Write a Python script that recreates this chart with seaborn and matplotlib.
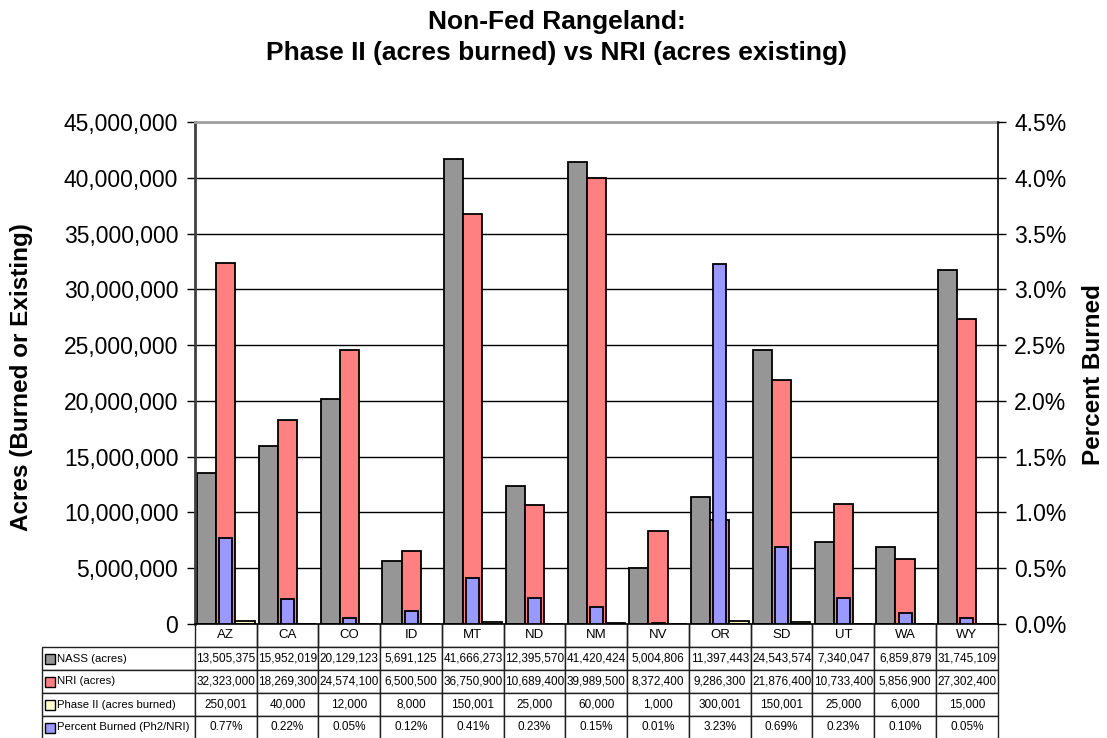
import matplotlib
matplotlib.use("Agg")
import matplotlib.pyplot as plt
from matplotlib import font_manager
from matplotlib.patches import Rectangle
from matplotlib.ticker import FuncFormatter, MultipleLocator
import pandas as pd
import seaborn as sns

# ---- data -------------------------------------------------------------
states = ["AZ", "CA", "CO", "ID", "MT", "ND", "NM", "NV", "OR", "SD", "UT", "WA", "WY"]
nass_acres = [13505375, 15952019, 20129123, 5691125, 41666273, 12395570, 41420424,
              5004806, 11397443, 24543574, 7340047, 6859879, 31745109]
nri_acres = [32323000, 18269300, 24574100, 6500500, 36750900, 10689400, 39989500,
             8372400, 9286300, 21876400, 10733400, 5856900, 27302400]
phase2_burned = [250001, 40000, 12000, 8000, 150001, 25000, 60000,
                 1000, 300001, 150001, 25000, 6000, 15000]
percent_burned = [0.77, 0.22, 0.05, 0.12, 0.41, 0.23, 0.15, 0.01, 3.23, 0.69, 0.23, 0.10, 0.05]

series_names = ["NASS (acres)", "NRI (acres)", "Phase II (acres burned)"]
pct_name = "Percent Burned (Ph2/NRI)"
colors = {"NASS (acres)": "#969696", "NRI (acres)": "#FF8080",
          "Phase II (acres burned)": "#FFFFCC", pct_name: "#9999FF"}

# ---- style ------------------------------------------------------------
sns.set_style("white")
plt.rcParams["font.family"] = ["Liberation Sans", "DejaVu Sans"]
plt.rcParams["text.color"] = "black"
plt.rcParams["axes.labelcolor"] = "black"
plt.rcParams["xtick.color"] = "black"
plt.rcParams["ytick.color"] = "black"


def has_font(name):
    try:
        font_manager.findfont(font_manager.FontProperties(family=name),
                              fallback_to_default=False)
        return True
    except Exception:
        return False


narrow = "Liberation Sans Narrow" if has_font("Liberation Sans Narrow") else "Liberation Sans"
table_fs = 10 if narrow == "Liberation Sans Narrow" else 8.5
header_fs = 10 if narrow == "Liberation Sans Narrow" else 9.5
label_fs = 10 if narrow == "Liberation Sans Narrow" else 8.2

W, H = 1107, 738
fig = plt.figure(figsize=(W / 100, H / 100), dpi=100)
ax_l, ax_r, ax_t, ax_b = 195, 997.7, 122, 624
ax = fig.add_axes([ax_l / W, (H - ax_b) / H, (ax_r - ax_l) / W, (ax_b - ax_t) / H])

# ---- primary bars -------------------------------------------------------
long = pd.DataFrame({
    "state": states * 3,
    "series": [s for s in series_names for _ in states],
    "acres": nass_acres + nri_acres + phase2_burned,
})
sns.barplot(data=long, x="state", y="acres", hue="series", order=states,
            hue_order=series_names, palette=colors, width=0.933, gap=0,
            edgecolor="black", linewidth=1.3, errorbar=None, legend=False,
            saturation=1, ax=ax)
ax.set_ylim(0, 45_000_000)
ax.yaxis.set_major_locator(MultipleLocator(5_000_000))
ax.yaxis.set_major_formatter(FuncFormatter(lambda v, p: f"{v:,.0f}"))
ax.set_axisbelow(True)
ax.yaxis.grid(True, color="black", linewidth=1)
ax.set_xlabel("")
ax.set_ylabel("")
ax.set_xticklabels([])
ax.tick_params(axis="x", length=0)
ax.tick_params(axis="y", direction="out", length=6, width=1, labelsize=16.5,
               colors="black", pad=6)
ax.spines["left"].set_color("#404040")
ax.spines["left"].set_linewidth(2)
ax.spines["top"].set_color("#A0A0A0")
ax.spines["top"].set_linewidth(2)
ax.spines["right"].set_visible(False)
ax.spines["bottom"].set_color("black")
ax.spines["bottom"].set_linewidth(1.2)

# ---- secondary bars (percent burned) ------------------------------------
ax2 = ax.twinx()
pct_df = pd.DataFrame({"state": states, "pct": percent_burned})
sns.barplot(data=pct_df, x="state", y="pct", order=states, color=colors[pct_name],
            width=0.21, edgecolor="black", linewidth=1.3, errorbar=None,
            saturation=1, ax=ax2)
ax2.set_ylim(0, 4.5)
ax2.yaxis.set_major_locator(MultipleLocator(0.5))
ax2.yaxis.set_major_formatter(FuncFormatter(lambda v, p: f"{v:.1f}%"))
ax2.set_xlabel("")
ax2.set_ylabel("")
ax2.tick_params(axis="y", direction="out", length=6, width=1, labelsize=16.5,
                colors="black", pad=6)
for side in ["left", "top", "bottom"]:
    ax2.spines[side].set_visible(False)
ax2.spines["right"].set_color("black")
ax2.spines["right"].set_linewidth(1.2)

# ---- data table ---------------------------------------------------------
rows = [[""] + states,
        [series_names[0]] + [f"{v:,}" for v in nass_acres],
        [series_names[1]] + [f"{v:,}" for v in nri_acres],
        [series_names[2]] + [f"{v:,}" for v in phase2_burned],
        [pct_name] + [f"{v:.2f}%" for v in percent_burned]]
tbl_left = 42
cat_w = (ax_r - ax_l) / len(states)
ax_w = ax_r - ax_l
ax_h = ax_b - ax_t
row_h = 23
tbl = ax.table(cellText=rows, cellLoc="center",
               colWidths=[(ax_l - tbl_left)] + [cat_w] * len(states),
               bbox=[(tbl_left - ax_l) / ax_w, -5 * row_h / ax_h,
                     (ax_r - tbl_left) / ax_w, 5 * row_h / ax_h])
tbl.auto_set_font_size(False)
tbl.set_fontsize(table_fs)
for (r, c), cell in tbl.get_celld().items():
    cell.set_edgecolor("#202020")
    cell.set_linewidth(1)
    txt = cell.get_text()
    txt.set_fontfamily([narrow, "DejaVu Sans"])
    txt.set_color("black")
    if r == 0 and c == 0:
        cell.visible_edges = "open"
    elif r == 0:
        cell.visible_edges = "LRB"
        txt.set_fontsize(header_fs)
    if c == 0 and r > 0:
        txt.set_ha("left")
        txt.set_fontsize(label_fs)
        cell.PAD = 0.1

# legend keys in the row-label column
key = 10
for i, name in enumerate(series_names + [pct_name]):
    yc = ax_b + row_h * (i + 1.5)
    ax.add_patch(Rectangle(((45 - ax_l) / ax_w, (ax_b - yc - key / 2) / ax_h),
                           key / ax_w, key / ax_h, transform=ax.transAxes,
                           facecolor=colors[name], edgecolor="black",
                           linewidth=1, clip_on=False, zorder=5))

# ---- titles ---------------------------------------------------------------
fig.text(557 / W, 1 - 29 / H, "Non-Fed Rangeland:", ha="center", va="baseline",
         fontsize=19, fontweight="bold")
fig.text(557 / W, 1 - 60 / H, "Phase II (acres burned) vs NRI (acres existing)",
         ha="center", va="baseline", fontsize=19, fontweight="bold")
fig.text(22 / W, 1 - 377 / H, "Acres (Burned or Existing)", rotation=90,
         ha="center", va="center", fontsize=17.5, fontweight="bold")
fig.text(1093 / W, 1 - 375 / H, "Percent Burned", rotation=90,
         ha="center", va="center", fontsize=17.5, fontweight="bold")

fig.savefig("out.png", dpi=100)
